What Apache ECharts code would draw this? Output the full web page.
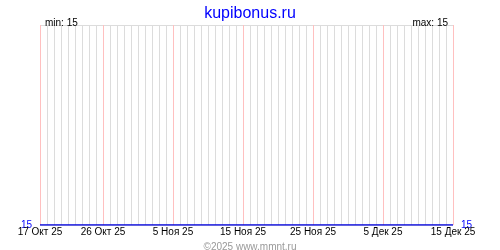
<!DOCTYPE html>
<html><head><meta charset="utf-8">
<script src="https://cdn.jsdelivr.net/npm/echarts@6/dist/echarts.min.js"></script>
<style>html,body{margin:0;padding:0;background:#fff}#c{width:500px;height:250px}</style>
</head><body><div id="c"></div>
<script>
var categories = [
 '17 Окт 25','18 Окт 25','19 Окт 25','20 Окт 25','21 Окт 25','22 Окт 25','23 Окт 25','24 Окт 25','25 Окт 25','26 Окт 25',
 '27 Окт 25','28 Окт 25','29 Окт 25','30 Окт 25','31 Окт 25','1 Ноя 25','2 Ноя 25','3 Ноя 25','4 Ноя 25','5 Ноя 25',
 '6 Ноя 25','7 Ноя 25','8 Ноя 25','9 Ноя 25','10 Ноя 25','11 Ноя 25','12 Ноя 25','13 Ноя 25','14 Ноя 25','15 Ноя 25',
 '16 Ноя 25','17 Ноя 25','18 Ноя 25','19 Ноя 25','20 Ноя 25','21 Ноя 25','22 Ноя 25','23 Ноя 25','24 Ноя 25','25 Ноя 25',
 '26 Ноя 25','27 Ноя 25','28 Ноя 25','29 Ноя 25','30 Ноя 25','1 Дек 25','2 Дек 25','3 Дек 25','4 Дек 25','5 Дек 25',
 '6 Дек 25','7 Дек 25','8 Дек 25','9 Дек 25','10 Дек 25','11 Дек 25','12 Дек 25','13 Дек 25','14 Дек 25','15 Дек 25'
];
var values = [
 15,15,15,15,15,15,15,15,15,15,
 15,15,15,15,15,15,15,15,15,15,
 15,15,15,15,15,15,15,15,15,15,
 15,15,15,15,15,15,15,15,15,15,
 15,15,15,15,15,15,15,15,15,15,
 15,15,15,15,15,15,15,15,15,15
];
var tickLabels = ['17 Окт 25','26 Окт 25','5 Ноя 25','15 Ноя 25','25 Ноя 25','5 Дек 25','15 Дек 25'];
var yTickLabels = [15];
var yRange = [15, 16];
var minText = 'min: 15';
var maxText = 'max: 15';
var titleText = 'kupibonus.ru';
var footerText = '©2025 www.mmnt.ru';

var FONT = 'Liberation Sans';
function isTick(v) { return tickLabels.indexOf(v) >= 0; }

var chart = echarts.init(document.getElementById('c'), null, {renderer: 'canvas'});
chart.setOption({
  animation: false,
  backgroundColor: '#ffffff',
  title: [
    {text: titleText, left: 'center', top: 1, textStyle: {color: '#0000ff', fontSize: 16, fontWeight: 'normal', fontFamily: FONT}},
    {text: minText, left: 40, top: 13, textStyle: {color: '#000', fontSize: 10, fontWeight: 'normal', fontFamily: FONT}},
    {text: maxText, right: 47, top: 13, textStyle: {color: '#000', fontSize: 10, fontWeight: 'normal', fontFamily: FONT}},
    {text: footerText, left: 'center', top: 237, textStyle: {color: '#999999', fontSize: 10, fontWeight: 'normal', fontFamily: FONT}}
  ],
  grid: {left: 40, right: 47, top: 25, bottom: 25, containLabel: false},
  xAxis: {
    type: 'category', data: categories, boundaryGap: false, position: 'bottom',
    axisLine: {show: false}, axisTick: {show: false},
    axisLabel: {interval: function (i, v) { return isTick(v); }, margin: 2, color: '#000', fontSize: 10, fontFamily: FONT},
    splitLine: {show: true, interval: 0, lineStyle: {color: '#dcdcdc', width: 1}}
  },
  yAxis: [
    {type: 'value', min: yRange[0], max: yRange[1], interval: 1, position: 'left',
     axisLine: {show: false}, axisTick: {show: false},
     axisLabel: {margin: 8, color: '#0000ff', fontSize: 10, fontFamily: FONT,
       formatter: function (v) { return yTickLabels.indexOf(v) >= 0 ? String(v) : ''; }},
     splitLine: {show: true, lineStyle: {color: '#dcdcdc', width: 1}}},
    {type: 'value', min: yRange[0], max: yRange[1], interval: 1, position: 'right',
     axisLine: {show: false}, axisTick: {show: false},
     axisLabel: {margin: 8, color: '#0000ff', fontSize: 10, fontFamily: FONT,
       formatter: function (v) { return yTickLabels.indexOf(v) >= 0 ? String(v) : ''; }},
     splitLine: {show: false}}
  ],
  series: [
    {
      type: 'custom', name: 'ticks', xAxisIndex: 0, yAxisIndex: 0, z: 2, silent: true,
      data: tickLabels.map(function (t) { return [t, yRange[0]]; }),
      encode: {x: 0, y: 1},
      renderItem: function (params, api) {
        var idx = api.value(0);
        var pBottom = api.coord([idx, yRange[0]]);
        var pTop = api.coord([idx, yRange[1]]);
        var x = Math.round(pBottom[0]) + 0.5;
        return {
          type: 'line',
          shape: {x1: x, y1: pTop[1], x2: x, y2: pBottom[1]},
          style: {stroke: '#ffc0c0', lineWidth: 1}
        };
      }
    },
    {
      type: 'line', data: values, xAxisIndex: 0, yAxisIndex: 0, showSymbol: false, symbol: 'none',
      lineStyle: {color: '#0000dd', width: 1.5}, z: 3
    }
  ]
});
</script></body></html>
